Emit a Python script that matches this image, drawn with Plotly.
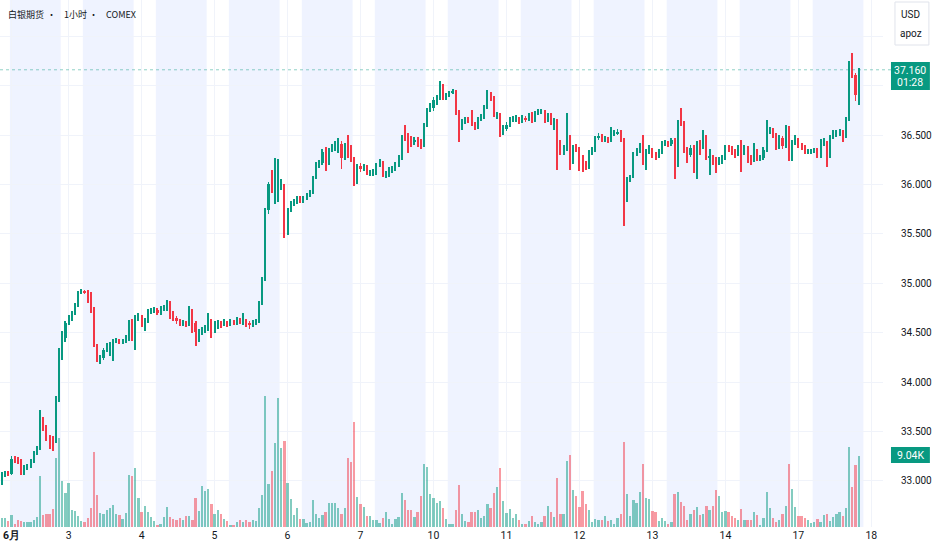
import plotly.graph_objects as go

# ---- values (silver futures, 1h, COMEX) ----
first_open = 32.98

closes_by_day = [
    [33.06, 33.08, 33.07, 33.22, 33.21, 33.20, 33.08, 33.13, 33.15, 33.20, 33.28, 33.32,
     33.55, 33.54, 33.43, 33.42, 33.40, 33.84, 34.32, 34.45, 34.60, 34.65, 34.70],
    [34.78, 34.90, 34.92, 34.91, 34.90, 34.74, 34.37, 34.23, 34.24, 34.32, 34.37, 34.38,
     34.41, 34.42, 34.41, 34.41, 34.45, 34.60, 34.46, 34.66, 34.66, 34.60, 34.62],
    [34.71, 34.72, 34.73, 34.70, 34.74, 34.75, 34.81, 34.68, 34.65, 34.62, 34.60, 34.60,
     34.59, 34.72, 34.60, 34.51, 34.51, 34.53, 34.55, 34.62, 34.52, 34.56, 34.60],
    [34.59, 34.60, 34.59, 34.61, 34.60, 34.63, 34.61, 34.62, 34.59, 34.58, 34.60, 34.61,
     34.80, 35.04, 35.74, 36.00, 35.93, 35.96, 35.97, 35.98, 35.56, 35.74, 35.81],
    [35.82, 35.86, 35.83, 35.86, 35.89, 35.91, 36.07, 36.19, 36.22, 36.33, 36.22, 36.35,
     36.38, 36.40, 36.41, 36.27, 36.38, 36.30, 36.26, 36.02, 36.19, 36.16, 36.18],
    [36.12, 36.12, 36.12, 36.20, 36.22, 36.10, 36.10, 36.15, 36.16, 36.20, 36.27, 36.48,
     36.47, 36.46, 36.43, 36.45, 36.43, 36.40, 36.60, 36.75, 36.77, 36.85, 36.87],
    [37.00, 36.87, 36.90, 36.93, 36.95, 36.73, 36.57, 36.63, 36.66, 36.65, 36.61, 36.58,
     36.66, 36.68, 36.78, 36.92, 36.88, 36.70, 36.70, 36.52, 36.56, 36.60, 36.66],
    [36.66, 36.66, 36.64, 36.67, 36.66, 36.70, 36.65, 36.72, 36.73, 36.74, 36.65, 36.70,
     36.64, 36.64, 36.43, 36.33, 36.36, 36.48, 36.23, 36.38, 36.36, 36.28, 36.20],
    [36.18, 36.33, 36.35, 36.47, 36.49, 36.45, 36.46, 36.45, 36.52, 36.52, 36.53, 36.45,
     35.86, 36.05, 36.08, 36.31, 36.34, 36.39, 36.23, 36.34, 36.35, 36.30, 36.29],
    [36.33, 36.42, 36.42, 36.41, 36.45, 36.20, 36.63, 36.62, 36.35, 36.30, 36.37, 36.18,
     36.42, 36.38, 36.47, 36.27, 36.27, 36.25, 36.23, 36.24, 36.27, 36.37, 36.36],
    [36.33, 36.31, 36.37, 36.32, 36.37, 36.26, 36.25, 36.34, 36.26, 36.27, 36.35, 36.55,
     36.55, 36.50, 36.38, 36.47, 36.39, 36.57, 36.26, 36.42, 36.45, 36.39, 36.38],
    [36.33, 36.33, 36.34, 36.35, 36.29, 36.41, 36.42, 36.29, 36.48, 36.50, 36.51, 36.53,
     36.49, 36.66, 37.19, 37.11, 36.90, 37.16],
]

highs_by_day = [
    [33.09, 33.10, 33.10, 33.25, 33.25, 33.24, 33.22, 33.16, 33.17, 33.22, 33.30, 33.35,
     33.72, 33.65, 33.56, 33.46, 33.45, 33.86, 34.34, 34.52, 34.62, 34.68, 34.72],
    [34.80, 34.92, 34.94, 34.93, 34.93, 34.91, 34.76, 34.38, 34.27, 34.34, 34.39, 34.40,
     34.44, 34.45, 34.44, 34.44, 34.48, 34.63, 34.64, 34.68, 34.70, 34.68, 34.65],
    [34.74, 34.75, 34.76, 34.75, 34.77, 34.78, 34.83, 34.82, 34.72, 34.67, 34.64, 34.63,
     34.62, 34.77, 34.74, 34.62, 34.54, 34.56, 34.58, 34.70, 34.64, 34.62, 34.63],
    [34.62, 34.64, 34.62, 34.64, 34.63, 34.66, 34.65, 34.70, 34.64, 34.62, 34.63, 34.64,
     34.82, 35.06, 35.76, 36.02, 36.15, 36.27, 36.26, 36.05, 36.00, 35.76, 35.83],
    [35.85, 35.88, 35.88, 35.88, 35.91, 35.94, 36.09, 36.23, 36.25, 36.36, 36.38, 36.37,
     36.41, 36.44, 36.47, 36.44, 36.42, 36.50, 36.40, 36.28, 36.21, 36.22, 36.21],
    [36.20, 36.15, 36.16, 36.22, 36.26, 36.24, 36.14, 36.18, 36.19, 36.23, 36.30, 36.50,
     36.60, 36.52, 36.49, 36.48, 36.48, 36.46, 36.62, 36.77, 36.82, 36.88, 36.90],
    [37.05, 37.02, 36.93, 36.95, 36.97, 36.96, 36.75, 36.66, 36.68, 36.68, 36.75, 36.63,
     36.68, 36.71, 36.80, 36.96, 36.94, 36.89, 36.73, 36.72, 36.60, 36.63, 36.68],
    [36.69, 36.70, 36.68, 36.70, 36.69, 36.72, 36.73, 36.74, 36.76, 36.76, 36.75, 36.72,
     36.72, 36.67, 36.66, 36.45, 36.40, 36.72, 36.50, 36.40, 36.41, 36.38, 36.30],
    [36.24, 36.35, 36.38, 36.49, 36.52, 36.51, 36.49, 36.48, 36.58, 36.55, 36.56, 36.55,
     36.47, 36.07, 36.10, 36.33, 36.37, 36.42, 36.50, 36.36, 36.40, 36.37, 36.33],
    [36.36, 36.44, 36.45, 36.44, 36.47, 36.47, 36.65, 36.77, 36.64, 36.38, 36.40, 36.40,
     36.44, 36.45, 36.55, 36.50, 36.36, 36.30, 36.28, 36.28, 36.30, 36.40, 36.40],
    [36.39, 36.36, 36.40, 36.45, 36.40, 36.39, 36.30, 36.42, 36.36, 36.30, 36.38, 36.65,
     36.58, 36.57, 36.52, 36.50, 36.49, 36.60, 36.59, 36.45, 36.50, 36.47, 36.42],
    [36.40, 36.36, 36.36, 36.37, 36.37, 36.46, 36.47, 36.44, 36.50, 36.55, 36.55, 36.56,
     36.55, 36.68, 37.25, 37.33, 37.13, 37.18],
]

lows_by_day = [
    [32.96, 33.04, 33.05, 33.06, 33.18, 33.17, 33.06, 33.06, 33.11, 33.13, 33.18, 33.26,
     33.31, 33.50, 33.40, 33.32, 33.30, 33.38, 33.80, 34.22, 34.40, 34.58, 34.62],
    [34.68, 34.76, 34.89, 34.89, 34.80, 34.70, 34.35, 34.20, 34.18, 34.22, 34.30, 34.26,
     34.21, 34.39, 34.38, 34.38, 34.39, 34.42, 34.42, 34.32, 34.62, 34.56, 34.52],
    [34.60, 34.69, 34.70, 34.68, 34.68, 34.72, 34.72, 34.64, 34.62, 34.59, 34.57, 34.57,
     34.56, 34.57, 34.50, 34.36, 34.40, 34.48, 34.50, 34.52, 34.45, 34.50, 34.54],
    [34.55, 34.57, 34.56, 34.57, 34.58, 34.58, 34.59, 34.58, 34.56, 34.54, 34.56, 34.58,
     34.60, 34.78, 35.02, 35.70, 35.91, 35.80, 35.82, 35.94, 35.46, 35.49, 35.72],
    [35.78, 35.80, 35.81, 35.81, 35.84, 35.87, 35.90, 36.05, 36.17, 36.20, 36.14, 36.20,
     36.33, 36.34, 36.32, 36.16, 36.25, 36.27, 36.23, 35.98, 36.00, 36.13, 36.14],
    [36.10, 36.09, 36.09, 36.10, 36.18, 36.07, 36.06, 36.08, 36.12, 36.14, 36.18, 36.25,
     36.44, 36.32, 36.38, 36.40, 36.38, 36.36, 36.38, 36.58, 36.73, 36.74, 36.80],
    [36.85, 36.85, 36.85, 36.88, 36.91, 36.70, 36.43, 36.55, 36.61, 36.62, 36.59, 36.55,
     36.56, 36.64, 36.66, 36.76, 36.84, 36.68, 36.66, 36.48, 36.50, 36.54, 36.58],
    [36.63, 36.63, 36.61, 36.62, 36.63, 36.64, 36.62, 36.63, 36.70, 36.71, 36.62, 36.63,
     36.60, 36.55, 36.15, 36.30, 36.30, 36.34, 36.15, 36.21, 36.33, 36.14, 36.13],
    [36.15, 36.16, 36.30, 36.33, 36.45, 36.43, 36.43, 36.42, 36.43, 36.49, 36.50, 36.43,
     35.58, 35.82, 36.02, 36.06, 36.29, 36.32, 36.20, 36.15, 36.31, 36.27, 36.25],
    [36.27, 36.31, 36.39, 36.38, 36.39, 36.05, 36.18, 36.59, 36.32, 36.22, 36.28, 36.12,
     36.05, 36.30, 36.36, 36.25, 36.10, 36.20, 36.12, 36.20, 36.21, 36.25, 36.33],
    [36.30, 36.27, 36.29, 36.13, 36.30, 36.22, 36.20, 36.23, 36.24, 36.24, 36.25, 36.33,
     36.51, 36.47, 36.35, 36.36, 36.36, 36.37, 36.24, 36.24, 36.40, 36.37, 36.35],
    [36.31, 36.31, 36.31, 36.32, 36.27, 36.27, 36.39, 36.18, 36.27, 36.46, 36.48, 36.49,
     36.43, 36.47, 36.64, 37.08, 36.84, 36.80],
]

volumes_by_day = [
    [1190, 1100, 760, 1530, 420, 850, 760, 680, 590, 590, 850, 1270,
     6490, 1530, 1700, 1610, 2250, 8730, 11280, 5850, 4370, 5640, 2160],
    [2080, 1360, 760, 680, 1100, 2460, 9580, 4030, 1820, 1610, 2120, 2420,
     2800, 1610, 1480, 975, 1820, 6610, 6530, 7460, 3650, 1910, 2670],
    [1910, 1310, 760, 250, 340, 1310, 2540, 1310, 975, 890, 1100, 850,
     1440, 1440, 930, 3650, 2040, 5170, 4580, 4830, 2880, 1610, 2160],
    [1700, 975, 760, 250, 250, 680, 930, 590, 850, 590, 850, 760,
     2370, 4070, 16660, 5430, 7120, 10730, 16450, 10090, 10940, 5640, 3520],
    [1530, 2460, 1060, 1060, 550, 680, 3390, 1700, 1190, 1530, 1950, 3010,
     3100, 3010, 2370, 1700, 2460, 8730, 8310, 13400, 3820, 2880, 2540],
    [1400, 1400, 850, 850, 510, 1100, 1950, 975, 420, 975, 1310, 4280,
     3430, 2120, 2160, 1310, 1870, 3940, 7970, 7630, 4160, 3650, 3050],
    [3310, 2460, 1020, 420, 340, 2200, 5340, 1610, 760, 590, 1950, 1870,
     2120, 1100, 1400, 2880, 2370, 4320, 5090, 7460, 3310, 1780, 2290],
    [1140, 1610, 930, 340, 340, 760, 1440, 640, 420, 590, 1360, 2630,
     1950, 1270, 6280, 1610, 1610, 8400, 9160, 4750, 3900, 2540, 4580],
    [2880, 2120, 590, 1020, 850, 930, 1360, 760, 850, 340, 1100, 1700,
     10810, 4160, 1440, 3390, 3100, 4410, 7970, 3730, 3520, 2040, 1950],
    [760, 1100, 760, 340, 590, 4160, 4410, 3140, 2630, 850, 1610, 2200,
     2540, 1530, 1700, 2630, 2200, 2630, 4750, 3940, 1950, 2040, 1910],
    [1440, 1100, 850, 2290, 850, 930, 930, 1950, 1530, 250, 1190, 4410,
     2370, 1100, 590, 930, 1700, 2670, 7970, 4830, 2540, 1400, 1400],
    [1190, 850, 510, 590, 1020, 680, 1530, 1700, 760, 1270, 1610, 1950,
     1360, 2370, 10180, 5090, 7890, 9040],
]

# candle index where each date label sits, and the shaded sessions (in candle units)
day_tick_index = [3, 21, 44, 67, 90, 113, 136, 159, 182, 205, 228, 251, 274]
day_tick_text = ["<b>6月</b>", "3", "4", "5", "6", "7", "10", "11", "12", "13", "14", "17", "18"]
sessions = [(2.5, 18.5), (25.5, 41.5), (48.5, 64.5), (71.5, 87.5), (94.5, 110.5),
            (117.5, 133.5), (140.5, 156.5), (163.5, 179.5), (186.5, 202.5),
            (209.5, 225.5), (232.5, 248.5), (255.5, 271.5)]

price_ticks = [33.0, 33.5, 34.0, 34.5, 35.0, 35.5, 36.0, 36.5, 37.0, 37.5]
price_tick_text = ["33.000", "33.500", "34.000", "34.500", "35.000", "35.500",
                   "36.000", "36.500", "", ""]

last_price = 37.16
last_price_text = "37.160"
countdown_text = "01:28"
last_volume_text = "9.04K"
title_parts = ["白银期货", "•", "1小时", "•", "COMEX"]

# ---- build series ----
closes = [c for row in closes_by_day for c in row]
highs = [h for row in highs_by_day for h in row]
lows = [l for row in lows_by_day for l in row]
volumes = [v for row in volumes_by_day for v in row]
opens = [first_open] + closes[:-1]
idx = list(range(len(closes)))
rising = [c >= o for o, c in zip(opens, closes)]

UP = "#089981"
DOWN = "#F23645"
UP_VOL = "rgba(8,153,129,0.5)"
DOWN_VOL = "rgba(242,54,69,0.5)"
TEXT = "#131722"
GRID = "#f0f3fa"

W, H = 932, 550
PLOT_W, PLOT_H = 885, 527      # pixel size of the chart pane
STEP = 3.18                    # pixels per candle
X0 = 2                         # pixel of the first candle
PRICE_AT_135 = 36.5
PX_PER_USD = 98.8


def px(x):
    return x / PLOT_W


def py(y):
    return 1 - y / PLOT_H


y_top = PRICE_AT_135 + 135 / PX_PER_USD
y_bot = PRICE_AT_135 - (PLOT_H - 135) / PX_PER_USD
vol_top = PLOT_H * 9040 / 71.0

fig = go.Figure()

fig.add_trace(go.Bar(
    x=idx, y=volumes, yaxis="y2", width=0.72,
    marker=dict(color=[UP_VOL if r else DOWN_VOL for r in rising], line=dict(width=0)),
    hoverinfo="skip",
))

wick_lo = [min(l, o, c) for l, o, c in zip(lows, opens, closes)]
wick_hi = [max(h, o, c) for h, o, c in zip(highs, opens, closes)]
fig.add_trace(go.Bar(
    x=idx, base=wick_lo, y=[h - l for h, l in zip(wick_hi, wick_lo)], width=0.3,
    marker=dict(color=[UP if r else DOWN for r in rising], line=dict(width=0)),
    hoverinfo="skip",
))
fig.add_trace(go.Bar(
    x=idx, base=[min(o, c) for o, c in zip(opens, closes)],
    y=[max(abs(c - o), 0.009) for o, c in zip(opens, closes)], width=0.66,
    marker=dict(color=[UP if r else DOWN for r in rising], line=dict(width=0)),
    hoverinfo="skip",
))

shapes = []
for s0, s1 in sessions:
    shapes.append(dict(type="rect", xref="x", yref="paper", x0=s0, x1=s1, y0=0, y1=1,
                       fillcolor="rgba(41,98,255,0.075)", line=dict(width=0), layer="below"))
shapes.append(dict(type="line", xref="paper", yref="y", x0=0, x1=px(893), y0=last_price, y1=last_price,
                   line=dict(color="rgba(8,153,129,0.45)", width=1, dash="dot")))
# last price / volume badges on the price scale
shapes.append(dict(type="rect", xref="paper", yref="paper", x0=px(893), x1=px(932),
                   y0=py(90), y1=py(62), fillcolor=UP, line=dict(width=0)))
shapes.append(dict(type="rect", xref="paper", yref="paper", x0=px(893), x1=px(932),
                   y0=py(463), y1=py(447), fillcolor=UP, line=dict(width=0)))
# currency box top right
shapes.append(dict(type="rect", xref="paper", yref="paper", x0=px(897), x1=px(931),
                   y0=py(45), y1=py(2), line=dict(color="#e0e3eb", width=1),
                   fillcolor="rgba(0,0,0,0)"))

ann = []
title_x = [6, 52, 62, 94, 104]
for t, x in zip(title_parts, title_x):
    ann.append(dict(text=t, xref="paper", yref="paper", x=px(x), y=py(14),
                    xanchor="center" if t == "•" else "left", yanchor="middle", showarrow=False,
                    font=dict(family="Noto Sans CJK SC, Roboto", size=9, color=TEXT)))
ann.append(dict(text=last_price_text, xref="paper", yref="paper", x=px(912.5), y=py(70),
                xanchor="center", yanchor="middle", showarrow=False,
                font=dict(family="Roboto", size=10.5, color="white")))
ann.append(dict(text=countdown_text, xref="paper", yref="paper", x=px(912.5), y=py(83),
                xanchor="center", yanchor="middle", showarrow=False,
                font=dict(family="Roboto", size=10.5, color="white")))
ann.append(dict(text=last_volume_text, xref="paper", yref="paper", x=px(912.5), y=py(455),
                xanchor="center", yanchor="middle", showarrow=False,
                font=dict(family="Roboto", size=10.5, color="white")))
ann.append(dict(text="USD", xref="paper", yref="paper", x=px(913), y=py(14),
                xanchor="center", yanchor="middle", showarrow=False,
                font=dict(family="Roboto", size=10, color=TEXT)))
ann.append(dict(text="apoz", xref="paper", yref="paper", x=px(913), y=py(34),
                xanchor="center", yanchor="middle", showarrow=False,
                font=dict(family="Roboto", size=10, color=TEXT)))

fig.update_layout(
    width=W, height=H,
    margin=dict(l=0, r=W - PLOT_W, t=0, b=H - PLOT_H),
    paper_bgcolor="white", plot_bgcolor="white",
    barmode="overlay", bargap=0, showlegend=False,
    shapes=shapes, annotations=ann,
    xaxis=dict(range=[-X0 / STEP, (PLOT_W - X0) / STEP], tickvals=day_tick_index,
               ticktext=day_tick_text, showgrid=True, gridcolor=GRID, zeroline=False,
               showline=False, ticks="", fixedrange=True,
               tickfont=dict(family="Roboto", size=10.5, color=TEXT)),
    yaxis=dict(side="right", range=[y_bot, y_top], tickvals=price_ticks,
               ticktext=price_tick_text, showgrid=True, gridcolor=GRID, zeroline=False,
               showline=False, ticks="", ticklabelstandoff=17,
               tickfont=dict(family="Roboto", size=10, color=TEXT)),
    yaxis2=dict(overlaying="y", range=[0, vol_top], visible=False),
)

# the page's default body margin would shift the chart by 8px
fig.write_html("out.html", config={"displayModeBar": False},
               post_script="document.body.style.margin='0';")
